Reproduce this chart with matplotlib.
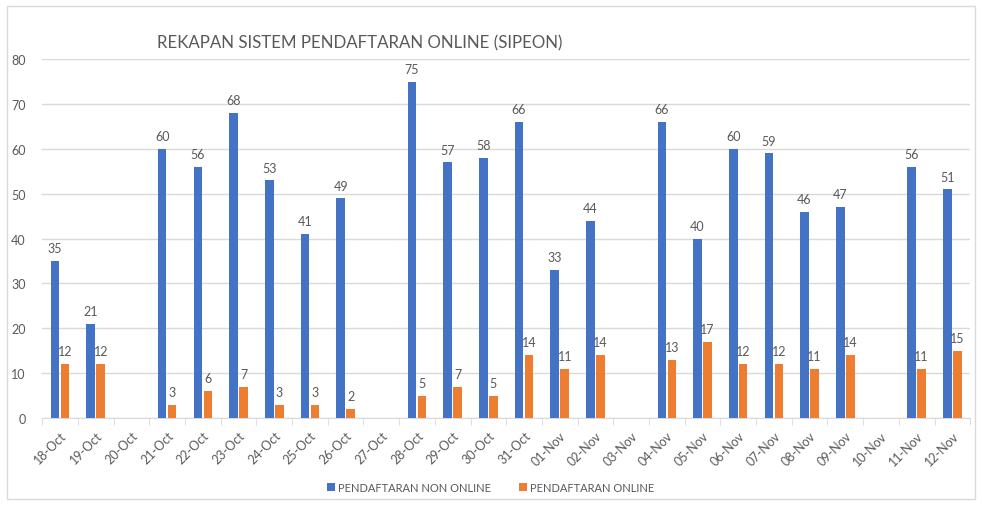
import matplotlib.pyplot as plt
import matplotlib.patches as patches
import numpy as np

plt.rcParams['font.family'] = ['Lato', 'DejaVu Sans']

# data
dates = ['18-Oct', '19-Oct', '20-Oct', '21-Oct', '22-Oct', '23-Oct', '24-Oct', '25-Oct',
         '26-Oct', '27-Oct', '28-Oct', '29-Oct', '30-Oct', '31-Oct', '01-Nov', '02-Nov',
         '03-Nov', '04-Nov', '05-Nov', '06-Nov', '07-Nov', '08-Nov', '09-Nov', '10-Nov',
         '11-Nov', '12-Nov']
non_online = [35, 21, None, 60, 56, 68, 53, 41, 49, None, 75, 57, 58, 66, 33, 44,
              None, 66, 40, 60, 59, 46, 47, None, 56, 51]
online = [12, 12, None, 3, 6, 7, 3, 3, 2, None, 5, 7, 5, 14, 11, 14,
          None, 13, 17, 12, 12, 11, 14, None, 11, 15]

blue = '#4472C4'
orange = '#ED7D31'
grey = '#595959'

fig = plt.figure(figsize=(9.82, 5.06), dpi=100)
ax = fig.add_axes([0.043, 0.172, 0.945, 0.709])

# chart border like excel
fig.patches.append(patches.Rectangle((0.007, 0.012), 0.986, 0.975, transform=fig.transFigure,
                                     fill=False, edgecolor='#d9d9d9', linewidth=1))

x = np.arange(len(dates))
w = 0.24
nb = [v if v is not None else 0 for v in non_online]
ob = [v if v is not None else 0 for v in online]
b1 = ax.bar(x - 0.14, nb, w, color=blue, label='PENDAFTARAN NON ONLINE', zorder=3)
b2 = ax.bar(x + 0.14, ob, w, color=orange, label='PENDAFTARAN ONLINE', zorder=3)

for i in range(len(dates)):
    if non_online[i] is not None:
        ax.text(x[i] - 0.14, non_online[i] + 1.5, str(non_online[i]), ha='center', va='bottom',
                fontsize=9, color=grey)
    if online[i] is not None:
        ax.text(x[i] + 0.14, online[i] + 1.5, str(online[i]), ha='center', va='bottom',
                fontsize=9, color=grey)

ax.set_xlim(-0.5, len(dates) - 0.5)
ax.set_ylim(0, 80)
ax.set_yticks(range(0, 81, 10))
ax.yaxis.grid(True, color='#d9d9d9', linewidth=1, zorder=0)
ax.set_axisbelow(True)
for s in ['top', 'right', 'left']:
    ax.spines[s].set_visible(False)
ax.spines['bottom'].set_color('#d9d9d9')

ax.set_xticks(x)
ax.set_xticklabels(dates, rotation=45, ha='right', rotation_mode='anchor', fontsize=9, color=grey)
ax.set_xticks(np.arange(-0.5, len(dates), 1), minor=True)
ax.tick_params(axis='x', which='major', length=0, pad=8)
ax.tick_params(axis='x', which='minor', length=5, color='#d9d9d9')
ax.tick_params(axis='y', length=0, labelsize=9, labelcolor=grey, pad=12)

fig.text(0.16, 0.915, 'REKAPAN SISTEM PENDAFTARAN ONLINE (SIPEON)', fontsize=12.2, color=grey,
         ha='left', va='center')

fig.legend(handles=[b1, b2], loc='center', bbox_to_anchor=(0.5, 0.035), ncol=2, frameon=False,
           fontsize=8, labelcolor=grey, handlelength=0.7, handleheight=0.7, columnspacing=2.5,
           handletextpad=0.3)

fig.savefig('out.png', dpi=100)
